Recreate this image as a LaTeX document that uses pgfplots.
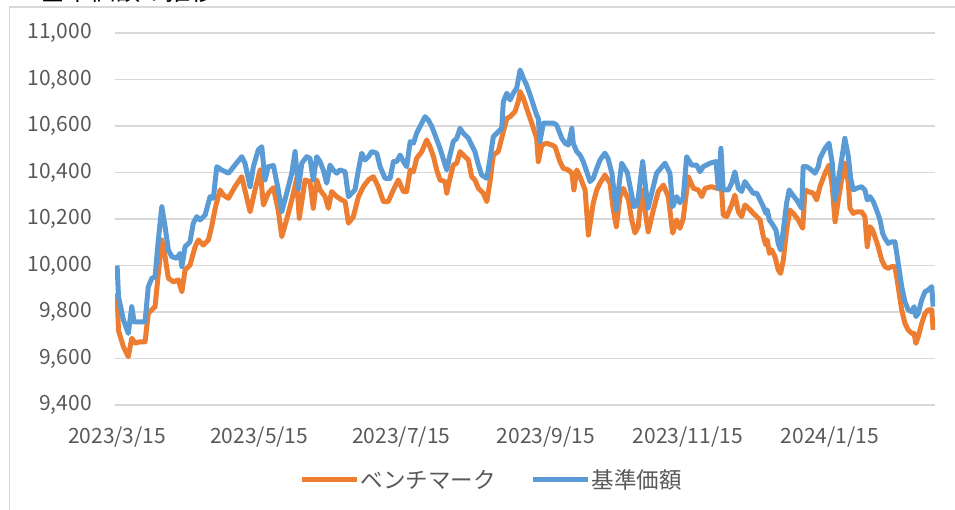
\documentclass[border=0pt]{standalone}
\usepackage{pgfplots}
\pgfplotsset{compat=1.18}
\usepackage{pgfplotstable}
\usepackage{fontspec}
\setmainfont{Noto Sans CJK JP}
\definecolor{borange}{HTML}{ED7D31}
\definecolor{bblue}{HTML}{5B9BD5}
\definecolor{tickgray}{HTML}{595959}
\definecolor{gridgray}{HTML}{D9D9D9}

\pgfplotstableread{
d v
0 9880
0.6 9720
2.7 9651
4.8 9608
6.3 9687
7.7 9666
9.9 9672
12.0 9672
13.4 9794
14.9 9809
16.3 9823
17.7 9966
19.2 10110
20.6 10038
22.0 9945
24.2 9930
26.3 9938
27.8 9887
29.2 9981
31.3 10002
33.5 10081
34.9 10110
37.0 10088
39.2 10110
40.6 10167
42.1 10246
44.2 10325
45.6 10303
47.8 10289
50.6 10339
53.5 10382
55.7 10289
57.1 10231
59.2 10325
61.4 10411
62.8 10260
64.9 10311
67.1 10335
69.2 10235
70.7 10124
73.5 10224
75.7 10311
77.1 10375
78.2 10203
80.7 10368
82.8 10361
84.2 10246
85.7 10368
87.1 10325
89.3 10296
90.7 10246
92.1 10318
94.3 10296
96.4 10282
97.9 10275
99.3 10182
101.4 10210
103.6 10296
105.7 10339
107.9 10368
110.0 10382
112.1 10339
114.3 10275
116.4 10275
118.6 10325
120.7 10368
122.9 10318
124.3 10318
125.8 10411
127.2 10403
128.6 10461
130.8 10490
132.9 10540
134.3 10511
135.8 10468
137.2 10411
138.6 10368
140.8 10361
141.5 10311
142.9 10375
144.3 10432
145.8 10440
147.2 10490
148.6 10475
150.8 10454
152.2 10382
153.6 10368
155.1 10332
157.2 10311
158.7 10275
160.1 10361
161.5 10475
163.6 10490
165.8 10575
167.3 10633
168.7 10640
170.8 10662
172.2 10705
173.0 10748
174.4 10719
175.8 10676
177.3 10633
178.7 10590
180.1 10547
180.8 10447
182.3 10518
184.4 10526
186.6 10518
188.0 10511
190.1 10447
191.5 10418
193.7 10411
195.2 10397
196.1 10325
197.3 10411
198.7 10382
200.9 10325
202.3 10131
204.4 10269
205.9 10325
207.3 10354
209.4 10389
211.6 10354
213.0 10239
214.3 10167
215.9 10296
217.3 10332
219.5 10282
220.9 10196
222.3 10140
223.7 10167
225.2 10325
226.6 10239
228.0 10145
230.2 10239
232.3 10318
234.5 10346
236.6 10296
238.5 10139
240.2 10196
241.6 10160
243.0 10200
245.2 10382
247.4 10332
249.5 10325
251.0 10296
252.4 10332
255.2 10339
258.1 10330
259.2 10370
260.2 10217
261.7 10210
263.8 10260
265.2 10303
266.7 10231
268.1 10210
269.5 10260
271.7 10240
273.1 10224
274.6 10210
276.0 10196
277.4 10124
278.5 10088
279.1 10110
280.0 10052
281.0 10067
282.4 10038
283.8 9981
284.8 9966
286.0 10024
287.4 10153
288.8 10239
290.3 10224
292.4 10196
294.3 10160
295.3 10325
296.7 10318
298.8 10311
300.3 10282
301.7 10339
303.9 10397
305.6 10432
307.0 10339
308.2 10188
309.6 10282
311.0 10368
312.4 10440
313.9 10354
314.6 10246
316.0 10224
317.5 10231
319.6 10231
321.0 10210
322.0 10081
323.2 10167
324.3 10153
325.3 10124
326.7 10081
328.2 10024
329.6 9995
331.0 9988
332.5 9995
333.9 9995
335.3 9909
336.8 9809
338.2 9751
339.6 9723
341.1 9708
342.1 9708
342.9 9665
343.9 9694
345.4 9751
346.8 9794
348.2 9809
349.7 9809
350.3 9723
}\bench

\pgfplotstableread{
d v
0 10000
0.6 9866
2.7 9766
4.8 9708
6.3 9823
7.3 9758
9.1 9758
12.0 9758
13.4 9909
14.9 9945
16.3 9952
17.7 10110
19.2 10253
20.6 10167
22.0 10067
23.5 10038
25.6 10031
27.0 10052
27.8 9995
29.2 10081
31.3 10102
32.7 10182
34.2 10210
35.6 10196
37.8 10217
39.9 10296
41.3 10289
42.8 10425
44.9 10411
47.8 10397
50.6 10432
53.5 10468
54.9 10440
57.1 10339
58.5 10425
60.6 10497
62.1 10511
63.5 10368
64.9 10425
67.1 10430
69.2 10325
70.7 10231
72.8 10311
75.0 10397
76.4 10490
77.8 10330
79.3 10440
81.4 10468
82.8 10461
84.2 10368
85.7 10468
87.1 10447
88.5 10411
90.0 10354
91.4 10432
92.8 10411
94.3 10397
95.7 10411
97.9 10403
99.3 10296
100.7 10311
102.1 10325
103.6 10411
105.0 10483
106.4 10454
107.9 10468
109.3 10490
111.5 10483
112.9 10425
115.0 10375
117.2 10375
118.6 10447
120.0 10447
121.5 10475
122.9 10447
124.3 10425
125.8 10533
127.2 10526
128.6 10569
130.0 10597
132.2 10640
133.6 10626
135.1 10597
136.5 10561
138.6 10504
141.5 10411
142.9 10475
144.3 10533
145.8 10547
147.2 10590
148.6 10569
150.8 10547
152.2 10518
153.6 10490
155.1 10432
156.5 10389
158.7 10375
160.1 10461
161.5 10554
163.6 10575
165.1 10590
165.8 10705
167.3 10741
168.7 10712
170.1 10741
171.5 10762
172.2 10798
173.0 10841
174.4 10805
175.8 10776
177.3 10733
178.7 10690
180.1 10647
180.8 10633
181.5 10533
183.0 10612
185.1 10612
187.3 10612
188.7 10604
190.9 10547
192.3 10526
193.7 10518
195.2 10590
195.8 10526
197.3 10490
198.7 10475
200.1 10447
201.6 10403
203.0 10361
204.4 10375
205.9 10418
207.3 10454
209.4 10483
210.7 10461
212.4 10397
214.2 10239
216.6 10440
219.0 10400
221.9 10253
223.3 10260
225.6 10447
227.9 10247
231.6 10397
235.2 10440
237.3 10397
238.5 10253
240.2 10296
241.6 10270
243.0 10290
244.5 10468
246.6 10432
248.8 10432
250.2 10403
251.6 10425
254.5 10440
257.1 10447
258.1 10332
259.2 10504
260.2 10325
262.4 10325
263.8 10354
265.2 10403
266.7 10332
268.1 10318
269.5 10361
271.0 10339
273.1 10310
274.6 10311
276.0 10282
277.4 10253
278.5 10224
279.1 10239
280.0 10196
281.0 10182
282.8 10153
283.8 10095
284.8 10067
286.0 10153
287.4 10268
288.5 10325
290.0 10303
291.7 10282
293.9 10246
294.5 10425
296.0 10425
298.1 10411
299.6 10397
301.0 10425
301.7 10461
303.9 10504
305.6 10526
307.0 10440
308.2 10282
309.6 10368
311.0 10454
312.4 10547
313.9 10468
314.9 10375
316.0 10325
317.5 10332
319.6 10339
321.0 10325
322.0 10282
323.2 10296
324.6 10275
326.0 10239
327.5 10196
328.6 10139
329.6 10117
331.0 10095
332.5 10102
333.9 10102
335.3 10010
336.8 9909
338.2 9844
339.6 9809
341.1 9801
342.1 9823
342.9 9780
343.9 9794
345.4 9852
346.8 9887
348.2 9895
349.7 9909
350.3 9823
}\nav

\begin{document}
\begin{tikzpicture}[x=1pt,y=1pt]
\useasboundingbox (0,0) rectangle (955,510);
\draw[gridgray, line width=1.2pt] (9.5,0) -- (9.5,503) -- (955,503);
\node[anchor=base west, inner sep=0pt, font=\fontsize{25}{30}\selectfont] at (40,509) {基準価額の推移};
\begin{axis}[
  at={(115pt,105pt)}, anchor=south west,
  scale only axis, width=820pt, height=372pt,
  xmin=-0.9, xmax=351.1, ymin=9400, ymax=11000,
  ytick={9400,9600,9800,10000,10200,10400,10600,10800,11000},
  scaled y ticks=false,
  xtick={0,61,122,184,245,306},
  xticklabels={2023/3/15,2023/5/15,2023/7/15,2023/9/15,2023/11/15,2024/1/15},
  ymajorgrids, grid style={gridgray, line width=1.5pt},
  axis line style={draw=none}, major tick length=0pt, tick style={draw=none},
  /pgf/number format/assume math mode=true,
  /pgf/number format/fixed,
  /pgf/number format/precision=0,
  /pgf/number format/1000 sep={,},
  ticklabel style={font=\fontsize{21}{25}\selectfont, text=tickgray, inner sep=0pt},
  yticklabel style={anchor=east, xshift=-23pt},
  xticklabel style={anchor=north, yshift=-22pt},
  legend columns=2,
  legend style={at={(0.459,-0.2016)}, anchor=center, draw=none, fill=none,
    font=\fontsize{22.5}{27}\selectfont, text=tickgray,
    nodes={inner sep=1.5pt},
    /tikz/every even column/.append style={column sep=33pt}},
  legend image code/.code={\draw[#1] (0pt,0pt) -- (55pt,0pt);},
]
\addplot[borange, line width=5pt, line join=round, no marks] table[x=d,y=v]{\bench};
\addlegendentry{ベンチマーク}
\addplot[bblue, line width=5pt, line join=round, no marks] table[x=d,y=v]{\nav};
\addlegendentry{基準価額}
\end{axis}
\end{tikzpicture}
\end{document}
